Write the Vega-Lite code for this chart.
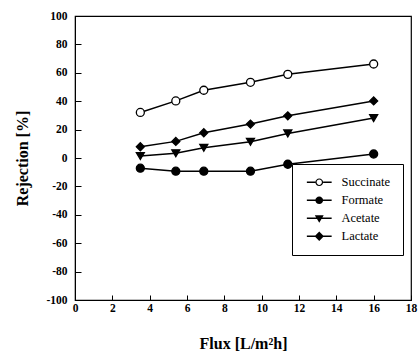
{
  "$schema": "https://vega.github.io/schema/vega-lite/v6.json",
  "width": 336,
  "height": 284,
  "autosize": {"type": "none"},
  "padding": {"left": 75, "top": 16, "right": 9, "bottom": 56},
  "background": "white",
  "config": {
    "view": {"stroke": "black", "strokeWidth": 1.2},
    "font": "Liberation Serif",
    "axis": {
      "grid": false,
      "domainColor": "black",
      "tickColor": "black",
      "labelColor": "black",
      "titleColor": "black",
      "labelFont": "Liberation Serif",
      "titleFont": "Liberation Serif",
      "labelFontWeight": "bold",
      "titleFontWeight": "bold",
      "labelFontSize": 11.5,
      "titleFontSize": 16
    }
  },
  "data": {
    "values": [
      {"series": "Succinate", "flux": 3.5, "rejection": 32.1},
      {"series": "Succinate", "flux": 5.4, "rejection": 40.2},
      {"series": "Succinate", "flux": 6.9, "rejection": 47.7},
      {"series": "Succinate", "flux": 9.4, "rejection": 53.3},
      {"series": "Succinate", "flux": 11.4, "rejection": 58.9},
      {"series": "Succinate", "flux": 16, "rejection": 66.2},
      {"series": "Formate", "flux": 3.5, "rejection": -7.2},
      {"series": "Formate", "flux": 5.4, "rejection": -9.3},
      {"series": "Formate", "flux": 6.9, "rejection": -9.3},
      {"series": "Formate", "flux": 9.4, "rejection": -9.3},
      {"series": "Formate", "flux": 11.4, "rejection": -4.4},
      {"series": "Formate", "flux": 16, "rejection": 2.8},
      {"series": "Acetate", "flux": 3.5, "rejection": 1.4},
      {"series": "Acetate", "flux": 5.4, "rejection": 3.3},
      {"series": "Acetate", "flux": 6.9, "rejection": 7.2},
      {"series": "Acetate", "flux": 9.4, "rejection": 11.4},
      {"series": "Acetate", "flux": 11.4, "rejection": 17.3},
      {"series": "Acetate", "flux": 16, "rejection": 28.1},
      {"series": "Lactate", "flux": 3.5, "rejection": 7.9},
      {"series": "Lactate", "flux": 5.4, "rejection": 11.7},
      {"series": "Lactate", "flux": 6.9, "rejection": 17.8},
      {"series": "Lactate", "flux": 9.4, "rejection": 23.9},
      {"series": "Lactate", "flux": 11.4, "rejection": 29.7},
      {"series": "Lactate", "flux": 16, "rejection": 40.2}
    ]
  },
  "encoding": {
    "x": {
      "field": "flux", "type": "quantitative",
      "scale": {"domain": [0, 18], "nice": false, "zero": false},
      "axis": {"values": [0, 2, 4, 6, 8, 10, 12, 14, 16, 18], "tickSize": -5, "labelPadding": 7, "title": "Flux [L/m²h]", "titlePadding": 22, "labelFlush": false}
    },
    "y": {
      "field": "rejection", "type": "quantitative",
      "scale": {"domain": [-100, 100], "nice": false},
      "axis": {"values": [-100, -80, -60, -40, -20, 0, 20, 40, 60, 80, 100], "labelExpr": "toString(datum.value)", "tickSize": -6, "labelPadding": 14, "title": "Rejection [%]", "titlePadding": 15, "labelFlush": false}
    }
  },
  "layer": [
    {
      "mark": {"type": "line", "color": "black", "strokeWidth": 1.5},
      "encoding": {"detail": {"field": "series"}}
    },
    {
      "mark": {"type": "point", "filled": false, "stroke": "black", "strokeWidth": 1.3, "size": 64, "opacity": 1},
      "encoding": {
        "shape": {
          "field": "series", "type": "nominal",
          "scale": {"domain": ["Succinate", "Formate", "Acetate", "Lactate"], "range": ["circle", "circle", "triangle-down", "diamond"]},
          "legend": null
        },
        "fill": {
          "field": "series", "type": "nominal",
          "scale": {"domain": ["Succinate", "Formate", "Acetate", "Lactate"], "range": ["white", "black", "black", "black"]},
          "legend": null
        }
      }
    },
    {
      "mark": {"type": "point", "filled": true, "color": "black", "opacity": 0, "size": 60},
      "encoding": {
        "shape": {
          "field": "series", "type": "nominal",
          "scale": {"domain": ["Succinate", "Formate", "Acetate", "Lactate"], "range": [
            "M-3.2,-0.17H-1V0.17H-3.2ZM1,-0.17H3.2V0.17H1ZM-1,0A1,1,0,1,1,1,0A1,1,0,1,1,-1,0ZM-0.68,0A0.68,0.68,0,1,0,0.68,0A0.68,0.68,0,1,0,-0.68,0Z",
            "M-3.2,-0.17H3.2V0.17H-3.2ZM-1,0A1,1,0,1,1,1,0A1,1,0,1,1,-1,0Z",
            "M-3.2,-0.17H3.2V0.17H-3.2ZM-1.15,-0.8L1.15,-0.8L0,1.15Z",
            "M-3.2,-0.17H3.2V0.17H-3.2ZM0,-1.2L1.2,0L0,1.2L-1.2,0Z"
          ]},
          "legend": {
            "title": null,
            "orient": "none",
            "legendX": 217,
            "legendY": 148,
            "direction": "vertical",
            "strokeColor": "black",
            "fillColor": "white",
            "padding": 12,
            "rowPadding": 5,
            "symbolSize": 60,
            "symbolFillColor": "black",
            "symbolStrokeWidth": 0,
            "symbolOpacity": 1,
            "symbolOffset": 9,
            "labelOffset": 16,
            "labelFont": "Liberation Serif",
            "labelFontSize": 12.5,
            "labelColor": "black"
          }
        }
      }
    }
  ],
  "resolve": {"scale": {"shape": "independent"}}
}
